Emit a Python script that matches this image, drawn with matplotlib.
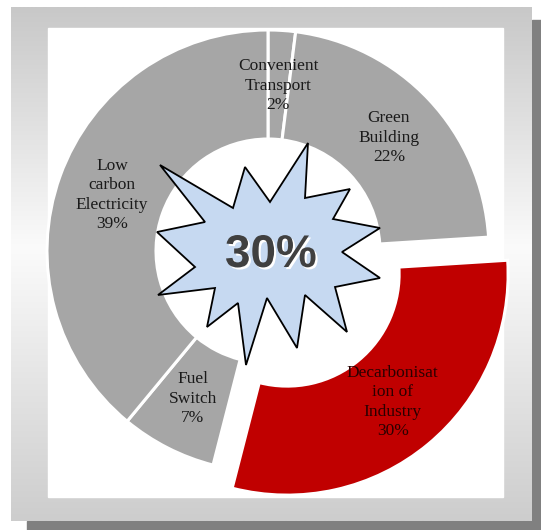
import matplotlib
import numpy as np

matplotlib.use("Agg")
import matplotlib.pyplot as plt  # noqa: E402
import matplotlib.patheffects as pe  # noqa: E402
from matplotlib.colors import LinearSegmentedColormap  # noqa: E402
from matplotlib.patches import Polygon, Rectangle  # noqa: E402

# Datos del gráfico
labels = ["Convenient\nTransport\n2%", "Green\nBuilding\n22%",
          "Decarbonisat\nion of\nIndustry\n30%", "Fuel\nSwitch\n7%",
          "Low\ncarbon\nElectricity\n39%"]
shares = [2, 22, 30, 7, 39]
highlight_idx = 2          # sector destacado (rojo y separado)
highlight = "30%"

# Estilo
GREY, RED = "#a6a6a6", "#c00000"
EXPLODE_PX = 30

# Geometría en píxeles de la imagen (y hacia abajo)
W, H = 541, 530
CX, CY = 268, 251
R_OUT, R_IN = 221, 112

# Forma de la "explosión" (vértices, píxeles de imagen)
STAR = [(308, 143), (305, 198), (350, 189), (333, 219), (380, 228),
        (342, 252), (380, 278), (335, 287), (347, 332), (305, 295),
        (297, 348), (267, 298), (246, 365), (238, 303), (207, 327),
        (215, 288), (158, 295), (195, 267), (157, 232), (205, 222),
        (160, 165), (233, 208), (245, 167), (270, 202)]

fig = plt.figure(figsize=(W / 100, H / 100), dpi=100)
ax = fig.add_axes([0, 0, 1, 1])


def fy(y):
    """Convierte y de imagen (hacia abajo) a y de datos (hacia arriba)."""
    return H - y


# Marco: sombra oscura, banda gris con degradado y caja blanca
ax.add_patch(Rectangle((27, fy(530)), W - 27, 9, color="#808080", zorder=0))
ax.add_patch(Rectangle((532, fy(530)), 9, 510, color="#808080", zorder=0))
grad = np.linspace(0, 1, 256).reshape(-1, 1)
cmap = LinearSegmentedColormap.from_list(
    "frame", [(0, "#c8c8c8"), (0.47, "#fbfbfb"), (1, "#cdcdcd")])
ax.imshow(grad, extent=(11, 532, fy(521), fy(7)), cmap=cmap, aspect="auto",
          zorder=0.5, origin="upper")
box = Rectangle((48, fy(497)), 503 - 48, 497 - 28, color="white", zorder=1)
ax.add_patch(box)

colors = [RED if i == highlight_idx else GREY for i in range(len(shares))]
explode = [EXPLODE_PX if i == highlight_idx else 0 for i in range(len(shares))]

wedges, texts = ax.pie(
    shares, labels=labels, colors=colors, explode=explode,
    startangle=90, counterclock=False, radius=R_OUT, center=(CX, fy(CY)),
    labeldistance=0.75, frame=True,
    wedgeprops=dict(width=R_OUT - R_IN, edgecolor="white", linewidth=2.2),
    textprops=dict(family="Liberation Serif", fontsize=12.5, ha="center",
                   va="center", linespacing=1.28, color="#1a1a1a"))
for w in wedges:
    w.set_zorder(2)
    w.set_clip_path(box)
for i, t in enumerate(texts):
    t.set_zorder(3)
    if i == highlight_idx:
        t.set_color("#2a0000")

# Estrella central con el porcentaje destacado
star = Polygon([(x, fy(y)) for x, y in STAR], closed=True,
               facecolor="#c6d9f1", edgecolor="black", linewidth=1.3, zorder=4)
ax.add_patch(star)
ax.text(271, fy(255), highlight, ha="center", va="center", fontsize=33,
        fontweight="bold", family="Liberation Sans", color="#404040",
        zorder=6,
        path_effects=[pe.SimplePatchShadow(offset=(1.5, -1.5),
                                           shadow_rgbFace="white", alpha=1),
                      pe.Normal()])

ax.set_xlim(0, W)
ax.set_ylim(0, H)
ax.set_axis_off()

fig.savefig("out.png", dpi=100)
